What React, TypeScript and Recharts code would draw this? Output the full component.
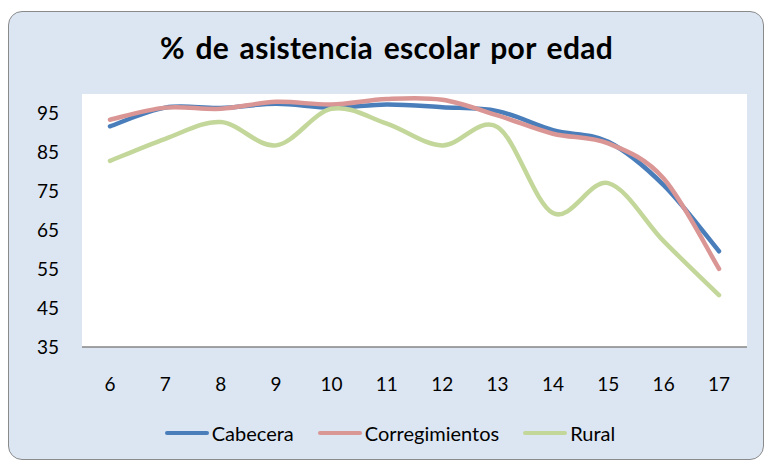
import React from 'react';
import { LineChart, Line, XAxis, YAxis, Legend } from 'recharts';

const ages = ['6', '7', '8', '9', '10', '11', '12', '13', '14', '15', '16', '17'];
const cabecera = [91.7, 96.5, 96.4, 97.5, 96.5, 97.3, 96.6, 95.6, 90.7, 87.7, 76.6, 59.6];
const corregimientos = [93.4, 96.5, 96.2, 98.0, 97.3, 98.7, 98.5, 94.5, 89.8, 87.3, 78.3, 55.1];
const rural = [82.8, 88.5, 92.8, 86.8, 96.2, 92.4, 86.8, 91.5, 69.4, 77.1, 62.2, 48.3];
const yTicks = [35, 45, 55, 65, 75, 85, 95];

const data = ages.map((a, i) => ({
  age: a,
  Cabecera: cabecera[i],
  Corregimientos: corregimientos[i],
  Rural: rural[i],
}));

const FONT = 'Lato, "Open Sans", sans-serif';

function catmullRom(context: any) {
  let pts: [number, number][] = [];
  return {
    areaStart() {},
    areaEnd() {},
    lineStart() {
      pts = [];
    },
    lineEnd() {
      const n = pts.length;
      if (n === 0) return;
      context.moveTo(pts[0][0], pts[0][1]);
      for (let i = 0; i < n - 1; i++) {
        const p0 = pts[Math.max(i - 1, 0)];
        const p1 = pts[i];
        const p2 = pts[i + 1];
        const p3 = pts[Math.min(i + 2, n - 1)];
        context.bezierCurveTo(
          p1[0] + (p2[0] - p0[0]) / 6,
          p1[1] + (p2[1] - p0[1]) / 6,
          p2[0] - (p3[0] - p1[0]) / 6,
          p2[1] - (p3[1] - p1[1]) / 6,
          p2[0],
          p2[1]
        );
      }
    },
    point(x: number, y: number) {
      pts.push([+x, +y]);
    },
  };
}

const renderLegend = (props: any) => {
  const { payload } = props;
  return (
    <div style={{ display: 'flex', justifyContent: 'center', alignItems: 'center', fontFamily: FONT, fontSize: 20, color: '#000' }}>
      {payload.map((p: any, i: number) => (
        <div key={i} style={{ display: 'flex', alignItems: 'center', marginRight: i < payload.length - 1 ? 24 : 0 }}>
          <div style={{ width: 44, height: 4, borderRadius: 2, background: p.color, marginRight: 3 }} />
          <span>{p.value}</span>
        </div>
      ))}
    </div>
  );
};

export default function App() {
  return (
    <div style={{ position: 'absolute', left: 0, top: 0, width: 765, height: 461, background: '#fff' }}>
      <div
        style={{
          position: 'absolute',
          left: 8,
          top: 11,
          width: 754,
          height: 447,
          border: '1.5px solid #8a8a8a',
          borderRadius: 14,
          background: '#dce6f2',
        }}
      />
      <div
        style={{
          position: 'absolute',
          left: 0,
          top: 29,
          width: 773,
          textAlign: 'center',
          fontFamily: FONT,
          fontWeight: 700,
          fontSize: 30,
          letterSpacing: 0.3,
          wordSpacing: 3,
          color: '#000',
        }}
      >
        % de asistencia escolar por edad
      </div>
      <div style={{ position: 'absolute', left: 82, top: 94, width: 665, height: 253, background: '#fff' }} />
      <div style={{ position: 'absolute', left: 0, top: 0 }}>
        <LineChart width={765} height={461} data={data} margin={{ top: 94, right: 18, bottom: 84, left: 22 }}>
          <XAxis
            dataKey="age"
            padding={{ left: 28, right: 28 }}
            axisLine={{ stroke: '#868686', strokeWidth: 1.5 }}
            tickLine={false}
            tickMargin={25}
            height={30}
            interval={0}
            tick={{ fill: '#000', fontSize: 19, fontFamily: FONT }}
          />
          <YAxis
            domain={[35, 100]}
            ticks={yTicks}
            width={60}
            axisLine={false}
            tickLine={false}
            tickMargin={17}
            tick={{ fill: '#000', fontSize: 19, fontFamily: FONT }}
          />
          <Legend
            layout="horizontal"
            verticalAlign="middle"
            align="center"
            content={renderLegend}
            wrapperStyle={{ top: 421, left: 0, width: 780 }}
          />
          <Line dataKey="Cabecera" type={catmullRom as any} stroke="#4a7ebb" strokeWidth={4.5} dot={false} isAnimationActive={false} strokeLinecap="round" />
          <Line dataKey="Corregimientos" type={catmullRom as any} stroke="#da9694" strokeWidth={4.5} dot={false} isAnimationActive={false} strokeLinecap="round" />
          <Line dataKey="Rural" type={catmullRom as any} stroke="#c4d79b" strokeWidth={4.5} dot={false} isAnimationActive={false} strokeLinecap="round" />
        </LineChart>
      </div>
    </div>
  );
}
